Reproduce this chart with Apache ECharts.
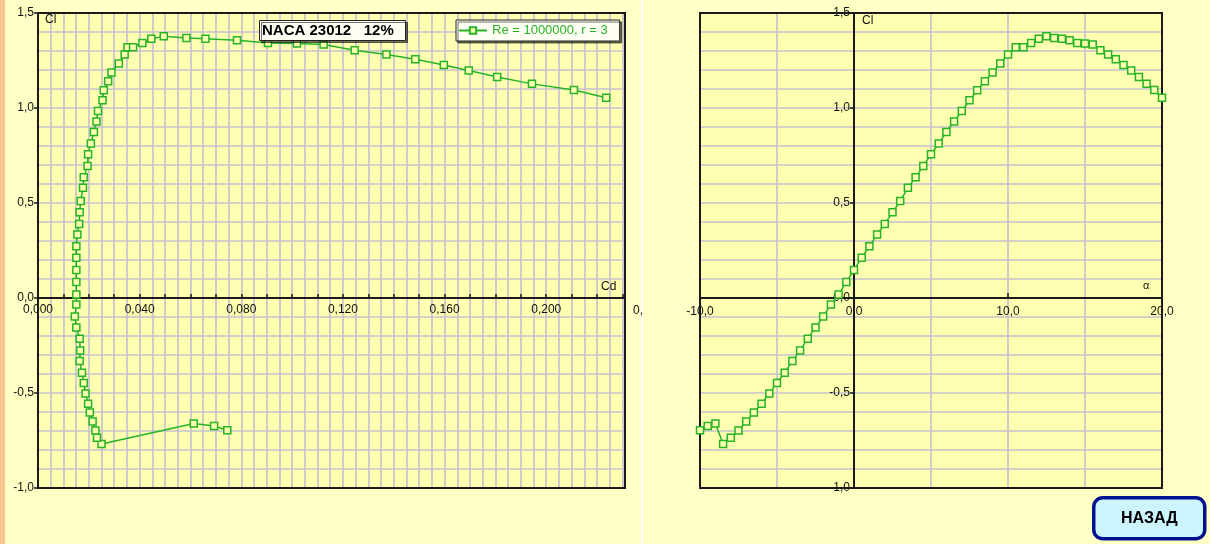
<!DOCTYPE html>
<html><head><meta charset="utf-8">
<script src="https://cdn.jsdelivr.net/npm/echarts@6/dist/echarts.min.js"></script>
<style>html,body{margin:0;padding:0;background:#ffffc6;} #c{width:1210px;height:544px;}</style>
</head><body><div id="c"></div>
<script>
// ---- data ----
const alpha = [-10, -9.5, -9, -8.5, -8, -7.5, -7, -6.5, -6, -5.5, -5, -4.5, -4, -3.5, -3, -2.5, -2, -1.5, -1, -0.5,
  0, 0.5, 1, 1.5, 2, 2.5, 3, 3.5, 4, 4.5, 5, 5.5, 6, 6.5, 7, 7.5, 8, 8.5, 9, 9.5,
  10, 10.5, 11, 11.5, 12, 12.5, 13, 13.5, 14, 14.5, 15, 15.5, 16, 16.5, 17, 17.5, 18, 18.5, 19, 19.5, 20];
const cl = [-0.696, -0.674, -0.660, -0.768, -0.736, -0.698, -0.650, -0.603, -0.556, -0.502, -0.447, -0.393, -0.332, -0.276, -0.214, -0.155, -0.098, -0.034, 0.018, 0.084,
  0.147, 0.212, 0.272, 0.334, 0.390, 0.451, 0.510, 0.580, 0.635, 0.695, 0.756, 0.813, 0.874, 0.929, 0.984, 1.041, 1.093, 1.141, 1.187, 1.234,
  1.281, 1.320, 1.320, 1.342, 1.365, 1.377, 1.368, 1.365, 1.356, 1.342, 1.340, 1.334, 1.304, 1.281, 1.256, 1.226, 1.197, 1.163, 1.127, 1.095, 1.054];
const cd = [0.0745, 0.0693, 0.0613, 0.0250, 0.0232, 0.0226, 0.0215, 0.0204, 0.0197, 0.0187, 0.0180, 0.0173, 0.0164, 0.0166, 0.0164, 0.0151, 0.0145, 0.0151, 0.0151, 0.0151,
  0.0151, 0.0151, 0.0151, 0.0155, 0.0162, 0.0164, 0.0168, 0.0177, 0.0180, 0.0195, 0.0197, 0.0208, 0.0220, 0.0230, 0.0236, 0.0254, 0.0259, 0.0276, 0.0289, 0.0318,
  0.0341, 0.0352, 0.0374, 0.0411, 0.0446, 0.0495, 0.0584, 0.0659, 0.0783, 0.0905, 0.1019, 0.1124, 0.1246, 0.1371, 0.1485, 0.1597, 0.1695, 0.1807, 0.1944, 0.2109, 0.2236];
const seriesName = 'Re = 1000000, r = 3';
const chartTitle = 'NACA 23012   12%';
const buttonLabel = 'НАЗАД';
const axisNames = { cl: 'Cl', cd: 'Cd', alpha: 'α' };

// ---- styling / layout ----
const GRIDC = '#c4c0ce';
const AX = '#1a1a1a';
const GREEN = '#26b426';
const PLOT = '#ffffb2';
const BG = '#ffffc6';
const FONT = '"Liberation Sans", Arial, sans-serif';
const lbl = { color: '#111', fontSize: 12, fontFamily: FONT };
const fmt = (v, d) => v.toFixed(d).replace('.', ',');
const isMult = (v, step) => Math.abs(v / step - Math.round(v / step)) < 1e-6;
const gridLine = { show: true, lineStyle: { color: GRIDC, width: 1.6 } };
const G1 = { left: 38, top: 13, width: 587, height: 475 };
const G2 = { left: 700, top: 13, width: 462, height: 475 };
const Y_MIN = -1, Y_MAX = 1.5;
const zeroOffset = -G1.height * (0 - Y_MIN) / (Y_MAX - Y_MIN); // move x axes up to Cl = 0
const A_MIN = -10, A_MAX = 20;
const alphaZeroOffset = -G2.width * (0 - A_MIN) / (A_MAX - A_MIN); // move right y axis to alpha = 0

function yAxisCfg(gi, offset) {
  return {
    type: 'value', gridIndex: gi, min: Y_MIN, max: Y_MAX, interval: 0.5, offset: offset,
    axisLine: { show: true, onZero: false, lineStyle: { color: AX, width: 2 } },
    axisTick: { show: true, inside: false, length: 4, lineStyle: { color: AX, width: 1.5 } },
    axisLabel: Object.assign({}, lbl, { margin: 4, formatter: v => fmt(v, 1) }),
    splitLine: gridLine,
    minorTick: { show: false, splitNumber: 5 },
    minorSplitLine: gridLine
  };
}
function frame(g) {
  return { type: 'rect', z: 1, silent: true, shape: { x: g.left, y: g.top, width: g.width, height: g.height },
    style: { fill: 'none', stroke: AX, lineWidth: 2 } };
}

const chart = echarts.init(document.getElementById('c'), null, { renderer: 'canvas' });
const ticks = [];
for (let y = 10; y < 544; y += 27.6) {
  ticks.push({ type: 'line', shape: { x1: 0, y1: Math.round(y) + 0.5, x2: 4, y2: Math.round(y) + 0.5 }, style: { stroke: '#222', lineWidth: 1 }, silent: true });
}
chart.setOption({
  backgroundColor: BG,
  animation: false,
  title: {
    text: chartTitle, left: 259, top: 20, padding: [3, 12, 3, 3],
    backgroundColor: '#fffff4', borderColor: '#222', borderWidth: 1,
    shadowColor: 'rgba(0,0,0,0.55)', shadowOffsetX: 2, shadowOffsetY: 2, shadowBlur: 0,
    textStyle: { fontSize: 15, fontWeight: 'bold', color: '#000', fontFamily: FONT }
  },
  legend: {
    data: [seriesName], left: 456, top: 20, itemWidth: 28, itemHeight: 8, itemGap: 2,
    padding: [4, 12, 4, 2], selectedMode: false,
    backgroundColor: '#fffff4', borderColor: '#222', borderWidth: 1,
    shadowColor: 'rgba(0,0,0,0.55)', shadowOffsetX: 2, shadowOffsetY: 2, shadowBlur: 0,
    textStyle: { color: GREEN, fontSize: 13, fontFamily: FONT }
  },
  grid: [
    Object.assign({ show: true, backgroundColor: PLOT, borderWidth: 0, outerBoundsMode: 'none' }, G1),
    Object.assign({ show: true, backgroundColor: PLOT, borderWidth: 0, outerBoundsMode: 'none' }, G2)
  ],
  xAxis: [
    {
      type: 'value', gridIndex: 0, min: 0, max: 0.231, interval: 0.01, offset: zeroOffset,
      axisLine: { show: true, onZero: false, lineStyle: { color: AX, width: 2 } },
      axisTick: { show: true, inside: true, length: 4, lineStyle: { color: AX, width: 1.5 } },
      axisLabel: Object.assign({}, lbl, { margin: 6, formatter: v => (isMult(v, 0.04) ? fmt(v, 3) : '') }),
      splitLine: gridLine,
      minorTick: { show: false, splitNumber: 2 },
      minorSplitLine: gridLine
    },
    {
      type: 'value', gridIndex: 1, min: A_MIN, max: A_MAX, interval: 10, offset: zeroOffset,
      axisLine: { show: true, onZero: false, lineStyle: { color: AX, width: 2 } },
      axisTick: { show: true, inside: true, length: 5, lineStyle: { color: AX, width: 1.5 } },
      axisLabel: Object.assign({}, lbl, { margin: 8, formatter: v => fmt(v, 1) }),
      splitLine: gridLine,
      minorTick: { show: false, splitNumber: 2 },
      minorSplitLine: gridLine
    }
  ],
  yAxis: [yAxisCfg(0, 0), yAxisCfg(1, alphaZeroOffset)],
  series: [
    {
      type: 'line', name: seriesName, xAxisIndex: 0, yAxisIndex: 0, z: 3,
      data: cd.map((c, i) => [c, cl[i]]),
      symbol: 'rect', symbolSize: 7, showAllSymbol: true,
      lineStyle: { color: GREEN, width: 1.5 },
      itemStyle: { color: PLOT, borderColor: GREEN, borderWidth: 1.5 }
    },
    {
      type: 'line', name: seriesName, xAxisIndex: 1, yAxisIndex: 1, z: 3,
      data: alpha.map((a, i) => [a, cl[i]]),
      symbol: 'rect', symbolSize: 7, showAllSymbol: true,
      lineStyle: { color: GREEN, width: 1.5 },
      itemStyle: { color: PLOT, borderColor: GREEN, borderWidth: 1.5 }
    }
  ],
  graphic: [
    frame(G1), frame(G2),
    { type: 'rect', shape: { x: 0, y: 0, width: 5, height: 544 }, style: { fill: '#f6c48c' }, silent: true, z: 50 },
    { type: 'group', children: ticks, z: 51 },
    { type: 'rect', shape: { x: 641, y: 0, width: 2, height: 544 }, style: { fill: '#ffffff' }, silent: true, z: 50 },
    { type: 'text', left: 45, top: 14, z: 60, style: { text: axisNames.cl, font: '12px ' + FONT, fill: '#111' } },
    { type: 'text', left: 601, top: 281, z: 60, style: { text: axisNames.cd, font: '12px ' + FONT, fill: '#111' } },
    { type: 'text', left: 862, top: 15, z: 60, style: { text: axisNames.cl, font: '12px ' + FONT, fill: '#111' } },
    { type: 'text', left: 1143, top: 280, z: 60, style: { text: axisNames.alpha, font: '11px ' + FONT, fill: '#111' } },
    { type: 'text', left: 633, top: 305, z: 60, style: { text: '0,', font: '12px ' + FONT, fill: '#111' } },
    {
      type: 'group', left: 1092, top: 496, z: 100, children: [
        { type: 'rect', shape: { x: 0, y: 0, width: 111, height: 41, r: 9 }, style: { fill: '#ccf5fe', stroke: '#00118f', lineWidth: 3.5 } },
        { type: 'text', style: { x: 55.5, y: 21, text: buttonLabel, align: 'center', verticalAlign: 'middle', font: 'bold 16px ' + FONT, fill: '#000' } }
      ]
    }
  ]
});
</script>
</body></html>
